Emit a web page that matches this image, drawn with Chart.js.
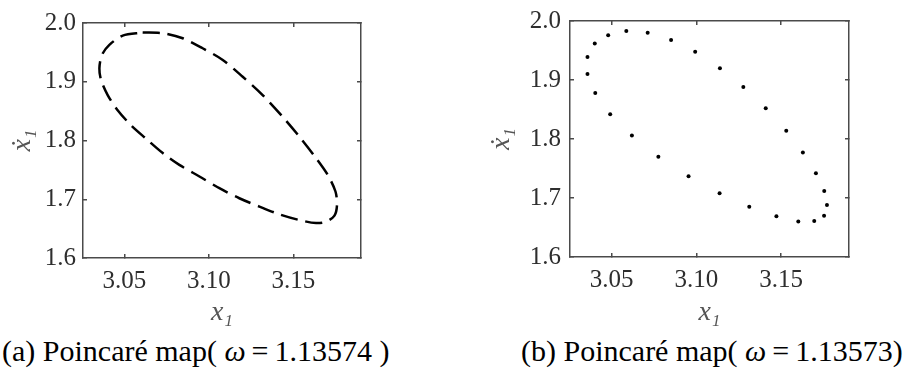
<!DOCTYPE html>
<html><head><meta charset="utf-8">
<script src="https://cdn.jsdelivr.net/npm/chart.js@4.4.0/dist/chart.umd.min.js"></script>
<style>
body{margin:0;background:#fff}
#wrap{position:relative;width:915px;height:377px;overflow:hidden}
canvas{position:absolute;top:0}
#c1{left:0}
#c2{left:460px}
.cap{position:absolute;top:336px;font-family:'Times New Roman','DejaVu Serif',serif;font-size:30px;line-height:30px;color:#000;white-space:nowrap}
</style></head><body>
<div id="wrap">
<canvas id="c1" width="460" height="330"></canvas>
<canvas id="c2" width="455" height="330"></canvas>
<div class="cap" style="left:2px">(a) Poincaré map( <i>ω</i>&thinsp;=&thinsp;1.13574 )</div>
<div class="cap" style="left:521px">(b) Poincaré map( <i>ω</i>&thinsp;=&thinsp;1.13573)</div>
</div>
<script>
// ---- data ----
const xTicks = [3.05, 3.10, 3.15];
const yTicks = [1.6, 1.7, 1.8, 1.9, 2.0];
const xRange = [3.0255, 3.19];
const yRange = [1.6, 2.0];
const xLabel = 'x\u2081';
const yLabel = 'x\u0307\u2081';

// (a) omega = 1.13574 : closed curve
const loopX = [3.0608,3.0727,3.0845,3.0963,3.1082,3.1200,3.1318,3.1437,3.1545,3.1634,3.1703,3.1749,3.1758,3.1743,3.1693,3.1634,3.1536,3.1417,3.1299,3.1180,3.1062,3.0944,3.0825,3.0727,3.0628,3.0539,3.0460,3.0401,3.0362,3.0352,3.0367,3.0411,3.0490,3.0608];
const loopY = [1.9838,1.9826,1.9740,1.9570,1.9371,1.9085,1.8773,1.8402,1.8031,1.7700,1.7415,1.7132,1.6903,1.6721,1.6619,1.6595,1.6646,1.6744,1.6875,1.7017,1.7188,1.7388,1.7586,1.7786,1.8031,1.8260,1.8516,1.8773,1.9029,1.9227,1.9456,1.9627,1.9786,1.9838];

// (b) omega = 1.13573 : discrete points
const mapX = [3.0587,3.0713,3.0851,3.0993,3.1139,3.1277,3.1409,3.1530,3.1628,3.1705,3.1754,3.1770,3.1753,3.1695,3.1601,3.1472,3.1312,3.1137,3.0954,3.0776,3.0620,3.0492,3.0404,3.0358,3.0358,3.0401,3.0480];
const mapY = [1.983,1.980,1.968,1.948,1.920,1.888,1.852,1.814,1.777,1.742,1.712,1.688,1.670,1.661,1.660,1.669,1.685,1.708,1.737,1.770,1.806,1.842,1.878,1.910,1.939,1.962,1.976];

// ---- styling / layout ----
const FAMILY = "'Times New Roman', 'DejaVu Serif', serif";
Chart.defaults.font.family = FAMILY;
const FRAME = '#4a4a4a';
const TICKC = '#2e2e2e';
const TITLEC = '#555555';

function makeScales(b) {
  const grid = {display:true, drawOnChartArea:false, drawTicks:true, tickLength:-4,
                tickColor:FRAME, color:FRAME, lineWidth:1.5, tickWidth:1.5};
  const border = {display:true, color:FRAME, width:1.5};
  const fix = (prop, val) => s => { s[prop] = val; s.paddingTop = 0; s.paddingBottom = 0; s.paddingLeft = 0; s.paddingRight = 0; };
  const xt = s => { s.ticks = xTicks.map(v => ({value:v})); };
  const yt = s => { s.ticks = yTicks.map(v => ({value:v})); };
  const tickFont = {family:FAMILY, size:25};
  const titleFont = {family:FAMILY, size:28, style:'italic'};
  return {
    x: {type:'linear', position:'bottom', min:xRange[0], max:xRange[1], afterBuildTicks:xt,
        afterFit:fix('height', b.bottom), grid, border,
        ticks:{font:tickFont, color:TICKC, padding:12, maxRotation:0, autoSkip:false, callback:v => v.toFixed(2)},
        title:{display:true, text:xLabel, font:titleFont, color:TITLEC, padding:{top:0, bottom:b.xTitlePad}}},
    xTop: {type:'linear', position:'top', min:xRange[0], max:xRange[1], afterBuildTicks:xt,
        afterFit:fix('height', b.top), grid, border, ticks:{display:false}},
    y: {type:'linear', position:'left', min:yRange[0], max:yRange[1], afterBuildTicks:yt,
        afterFit:fix('width', b.left), grid, border,
        ticks:{font:tickFont, color:TICKC, padding:b.yTickPad, autoSkip:false, callback:v => v.toFixed(1)},
        title:{display:true, text:yLabel, font:titleFont, color:TITLEC, padding:{top:b.yTitlePad, bottom:0}}},
    yRight: {type:'linear', position:'right', min:yRange[0], max:yRange[1], afterBuildTicks:yt,
        afterFit:fix('width', b.right), grid, border, ticks:{display:false}}
  };
}

const common = {
  responsive:false, animation:false, events:[],
  layout:{padding:0},
  plugins:{legend:{display:false}, tooltip:{enabled:false}, title:{display:false}}
};

new Chart(document.getElementById('c1'), {
  type:'scatter',
  data:{datasets:[{
    data: loopX.map((x,i) => ({x, y:loopY[i]})),
    showLine:true, borderColor:'#000', borderWidth:2.5, borderDash:[17,8],
    pointRadius:0, tension:0.3, fill:false
  }]},
  options:Object.assign({}, common, {
    scales: makeScales({top:23, bottom:72, left:83, right:99, yTickPad:11, yTitlePad:6, xTitlePad:1})
  })
});

new Chart(document.getElementById('c2'), {
  type:'scatter',
  data:{datasets:[{
    data: mapX.map((x,i) => ({x, y:mapY[i]})),
    showLine:false, pointRadius:2, pointBackgroundColor:'#000', pointBorderWidth:0
  }]},
  options:Object.assign({}, common, {
    scales: makeScales({top:21, bottom:73, left:110, right:66, yTickPad:13, yTitlePad:25, xTitlePad:1})
  })
});
</script>
</body></html>
